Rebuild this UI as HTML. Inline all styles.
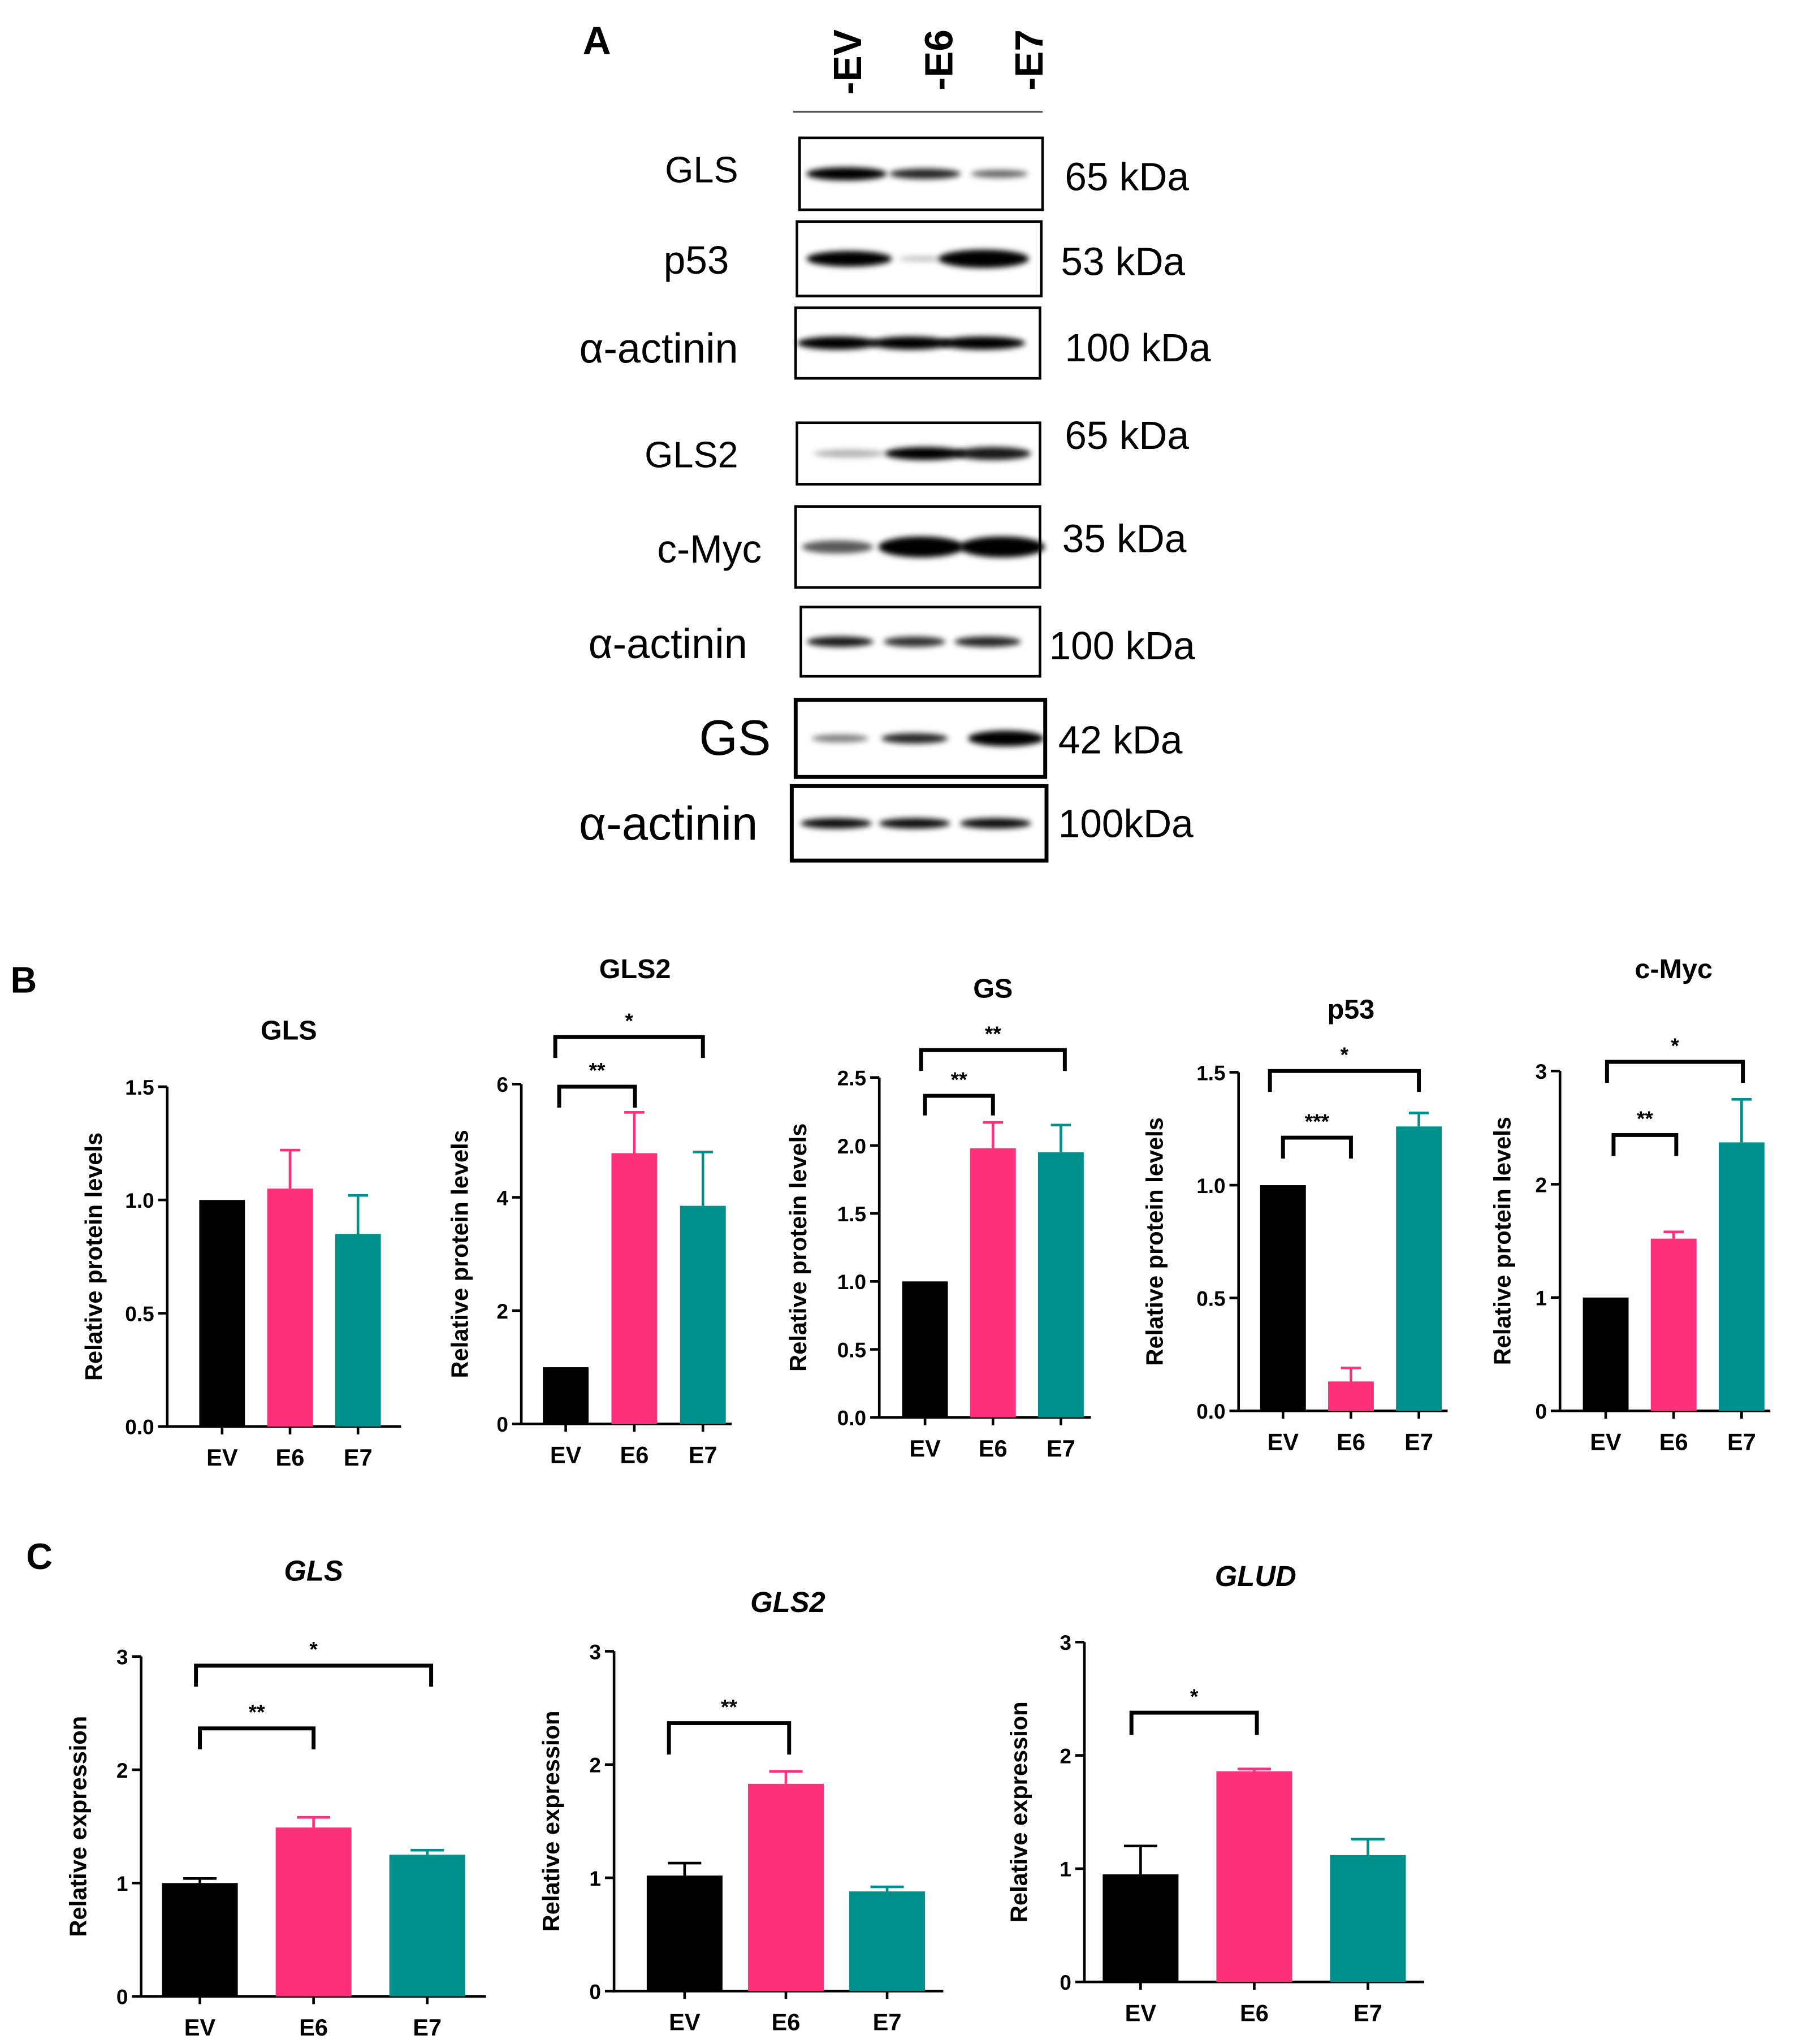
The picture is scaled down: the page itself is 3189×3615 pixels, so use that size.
<!DOCTYPE html>
<html><head><meta charset="utf-8">
<style>
html,body{margin:0;padding:0;background:#fff;}
svg{display:block;}
text{font-family:"Liberation Sans",Arial,sans-serif;}
</style></head>
<body>
<svg id="fig" width="3189" height="3615" viewBox="0 2.5 1380 1564" preserveAspectRatio="none" xmlns="http://www.w3.org/2000/svg">
<defs>
<filter id="blur" x="-50%" y="-100%" width="200%" height="300%"><feGaussianBlur stdDeviation="2.2"/></filter>
</defs>
<g id="panelA"></g>
<g id="panelB"></g>
<g id="panelC"></g>
</svg>
<script>
// ===== Panel B data =====
const bCategories = ["EV","E6","E7"];
const bGLSValues = [1.0, 1.05, 0.85];
const bGLSErrors = [0, 0.17, 0.17];
const bGLSTicks = ["0.0","0.5","1.0","1.5"];
const bGLS2Values = [1.0, 4.78, 3.85];
const bGLS2Errors = [0, 0.72, 0.95];
const bGLS2Ticks = ["0","2","4","6"];
const bGSValues = [1.0, 1.98, 1.95];
const bGSErrors = [0, 0.19, 0.2];
const bGSTicks = ["0.0","0.5","1.0","1.5","2.0","2.5"];
const bP53Values = [1.0, 0.13, 1.26];
const bP53Errors = [0, 0.06, 0.06];
const bP53Ticks = ["0.0","0.5","1.0","1.5"];
const bMycValues = [1.0, 1.52, 2.37];
const bMycErrors = [0, 0.06, 0.38];
const bMycTicks = ["0","1","2","3"];
// ===== Panel C data =====
const cCategories = ["EV","E6","E7"];
const cGLSValues = [1.0, 1.49, 1.25];
const cGLSErrors = [0.04, 0.09, 0.04];
const cGLS2Values = [1.02, 1.83, 0.88];
const cGLS2Errors = [0.11, 0.11, 0.04];
const cGLUDValues = [0.95, 1.86, 1.12];
const cGLUDErrors = [0.25, 0.02, 0.14];
const cTicks = ["0","1","2","3"];

const NS="http://www.w3.org/2000/svg";
const COLORS=["#000000","#fe2f7b","#00908c"];
function mk(parent,tag,attrs,txt){const e=document.createElementNS(NS,tag);for(const k in attrs)e.setAttribute(k,attrs[k]);if(txt!==undefined)e.textContent=txt;parent.appendChild(e);return e;}

function chart(parent,cfg){
  const g=mk(parent,"g",{});
  
  
  const ticks=cfg.ticks, max=parseFloat(ticks[ticks.length-1]);
  const y=v=>cfg.y0-(v/max)*(cfg.y0-cfg.yTop);
  const x=i=>cfg.cx0+i*cfg.step;
  const t=mk(g,"text",{x:cfg.tx,y:cfg.ty,"text-anchor":"middle","font-size":cfg.tfs,"font-weight":"bold","font-style":cfg.italic?"italic":"normal"},cfg.title);
  
  
  const ya=mk(g,"line",{x1:cfg.ax,y1:cfg.yTop,x2:cfg.ax,y2:cfg.y0+1,stroke:"#000","stroke-width":2});
  
  
  const xa=mk(g,"line",{x1:cfg.ax-1,y1:cfg.y0,x2:cfg.xEnd,y2:cfg.y0,stroke:"#000","stroke-width":2});
  
  
  ticks.forEach(tk=>{
    const v=parseFloat(tk), yy=y(v);
    mk(g,"line",{x1:cfg.ax-7,y1:yy,x2:cfg.ax,y2:yy,stroke:"#000","stroke-width":2});
    const tl=mk(g,"text",{x:cfg.ax-10,y:yy+6,"text-anchor":"end","font-size":16,"font-weight":"bold"},tk);
    
    
  });
  const yl=mk(g,"text",{x:0,y:0,transform:`translate(${cfg.ylx},${(cfg.y0+cfg.yTop)/2+cfg.yloff}) rotate(-90)`,"text-anchor":"middle","font-size":18,"font-weight":"bold"},cfg.ylabel);
  
  
  cfg.values.forEach((v,i)=>{
    const cx=x(i), w=cfg.bw;
    const b=mk(g,"rect",{x:cx-w/2,y:y(v),width:w,height:cfg.y0-y(v),fill:COLORS[i]});
    
    
    const e=cfg.errors[i];
    if(e>0){
      const eg=mk(g,"path",{d:`M${cx},${y(v)} V${y(v+e)} M${cx-w*0.22},${y(v+e)} H${cx+w*0.22}`,stroke:COLORS[i],"stroke-width":2,fill:"none"});
      
      
    }
    mk(g,"line",{x1:cx,y1:cfg.y0,x2:cx,y2:cfg.y0+6,stroke:"#000","stroke-width":2});
    const xl=mk(g,"text",{x:cx,y:cfg.y0+cfg.xlOff,"text-anchor":"middle","font-size":18,"font-weight":"bold"},cfg.cats[i]);
    
    
  });
  (cfg.brackets||[]).forEach(br=>{
    const p=mk(g,"path",{d:`M${br[0]},${br[3]} V${br[2]} H${br[1]} V${br[3]}`,stroke:"#000","stroke-width":3,fill:"none"});
    
    
    const s=mk(g,"text",{x:(br[0]+br[1])/2,y:br[2]-7,"text-anchor":"middle","font-size":16,"font-weight":"bold"},br[4]);
    
    
  });
}

const B=document.getElementById("panelB");
const lb=mk(B,"text",{x:8,y:762,"font-size":28,"font-weight":"bold"},"B");


const bl="Relative protein levels";
chart(B,{name:"chart-gls-protein",title:"GLS",tx:221,ty:798,tfs:21,ticks:bGLSTicks,values:bGLSValues,errors:bGLSErrors,cats:bCategories,ax:128,y0:1094,yTop:834,xEnd:307,cx0:170,step:52,bw:35,ylx:78,yloff:0,ylabel:bl,xlOff:30});
chart(B,{name:"chart-gls2-protein",title:"GLS2",tx:486,ty:751,tfs:21,ticks:bGLS2Ticks,values:bGLS2Values,errors:bGLS2Errors,cats:bCategories,ax:399,y0:1092,yTop:832,xEnd:560,cx0:433,step:52.5,bw:35,ylx:358,yloff:0,ylabel:bl,xlOff:30,brackets:[[428,486,834,850,"**"],[425,538,796,812,"*"]]});
chart(B,{name:"chart-gs-protein",title:"GS",tx:760,ty:766,tfs:21,ticks:bGSTicks,values:bGSValues,errors:bGSErrors,cats:bCategories,ax:673,y0:1087,yTop:827,xEnd:835,cx0:708,step:52,bw:35,ylx:617,yloff:0,ylabel:bl,xlOff:30,brackets:[[708,760,841,856,"**"],[705,815,806,822,"**"]]});
chart(B,{name:"chart-p53-protein",title:"p53",tx:1034,ty:782,tfs:21,ticks:bP53Ticks,values:bP53Values,errors:bP53Errors,cats:bCategories,ax:948,y0:1082,yTop:823,xEnd:1108,cx0:982,step:52,bw:35,ylx:890,yloff:0,ylabel:bl,xlOff:30,brackets:[[982,1034,873,889,"***"],[972,1086,822,838,"*"]]});
chart(B,{name:"chart-cmyc-protein",title:"c-Myc",tx:1281,ty:751,tfs:21,ticks:bMycTicks,values:bMycValues,errors:bMycErrors,cats:bCategories,ax:1194,y0:1082,yTop:822,xEnd:1355,cx0:1229,step:52,bw:35,ylx:1156,yloff:0,ylabel:bl,xlOff:30,brackets:[[1235,1283,871,887,"**"],[1230,1334,815,831,"*"]]});

const C=document.getElementById("panelC");
const lc=mk(C,"text",{x:20,y:1203,"font-size":28,"font-weight":"bold"},"C");


const cl="Relative expression";
chart(C,{name:"chart-gls-expression",title:"GLS",italic:true,tx:240,ty:1212,tfs:22,ticks:cTicks,values:cGLSValues,errors:cGLSErrors,cats:cCategories,ax:108,y0:1530,yTop:1270,xEnd:372,cx0:153,step:87,bw:58,ylx:66,yloff:0,ylabel:cl,xlOff:30,brackets:[[153,240,1325,1341,"**"],[150,330,1277,1293,"*"]]});
chart(C,{name:"chart-gls2-expression",title:"GLS2",italic:true,tx:603,ty:1236,tfs:22,ticks:cTicks,values:cGLS2Values,errors:cGLS2Errors,cats:cCategories,ax:470,y0:1526,yTop:1266,xEnd:722,cx0:524,step:77.5,bw:58,ylx:428,yloff:0,ylabel:cl,xlOff:30,brackets:[[512,604,1321,1345,"**"]]});
chart(C,{name:"chart-glud-expression",title:"GLUD",italic:true,tx:961,ty:1216,tfs:22,ticks:cTicks,values:cGLUDValues,errors:cGLUDErrors,cats:cCategories,ax:830,y0:1519,yTop:1259,xEnd:1090,cx0:873,step:87,bw:58,ylx:786,yloff:0,ylabel:cl,xlOff:30,brackets:[[866,962,1313,1330,"*"]]});

// ===== Panel A western blot =====
const A=document.getElementById("panelA");
const la=mk(A,"text",{x:446,y:44,"font-size":30,"font-weight":"bold"},"A");


const laneNames=["-EV","-E6","-E7"];
const laneX=[648,718,787];
laneNames.forEach((n,i)=>{
  const t=mk(A,"text",{x:0,y:0,transform:`translate(${laneX[i]+11},${25}) rotate(-90)`,"text-anchor":"end","font-size":30,"font-weight":"bold"},n);
  
  
});
mk(A,"line",{x1:607,y1:88,x2:798,y2:88,stroke:"#555","stroke-width":1.5});
const blots=[
 {name:"gls",label:"GLS",lx:565,ly:142,fs:28,x1:612,x2:798,y1:108,y2:163,sw:2,kda:"65 kDa",kx:815,ky:148,bands:[[648,1,34,5],[708,0.85,30,4],[765,0.6,24,3]]},
 {name:"p53",label:"p53",lx:558,ly:212,fs:30,x1:610,x2:797,y1:172,y2:229,sw:2,kda:"53 kDa",kx:812,ky:213,bands:[[650,1,36,6],[706,0.25,20,2],[753,1,38,7]]},
 {name:"alpha-actinin-1",label:"α-actinin",lx:565,ly:280,fs:32,x1:609,x2:796,y1:238,y2:292,sw:2,kda:"100 kDa",kx:815,ky:279,bands:[[641,1,34,5],[697,1,34,5],[752,1,36,5]]},
 {name:"gls2",label:"GLS2",lx:565,ly:360,fs:28,x1:610,x2:796,y1:326,y2:373,sw:2,kda:"65 kDa",kx:815,ky:346,bands:[[650,0.3,30,3],[708,1,34,5],[760,0.9,32,5]]},
 {name:"c-myc",label:"c-Myc",lx:583,ly:433,fs:30,x1:609,x2:796,y1:390,y2:452,sw:2,kda:"35 kDa",kx:813,ky:425,bands:[[641,0.65,30,5],[705,1,36,8],[767,1,36,8]]},
 {name:"alpha-actinin-2",label:"α-actinin",lx:572,ly:506,fs:32,x1:613,x2:796,y1:467,y2:520,sw:2,kda:"100 kDa",kx:803,ky:507,bands:[[643,0.9,28,4],[700,0.8,26,4],[756,0.85,28,4]]},
 {name:"gs",label:"GS",lx:590,ly:580,fs:38,x1:609,x2:800,y1:538,y2:597,sw:3,kda:"42 kDa",kx:810,ky:579,bands:[[643,0.5,24,3],[700,0.85,28,4],[770,1,32,6]]},
 {name:"alpha-actinin-3",label:"α-actinin",lx:580,ly:645,fs:36,x1:606,x2:801,y1:604,y2:661,sw:3,kda:"100kDa",kx:810,ky:643,bands:[[640,0.95,30,4],[700,0.95,30,4],[762,0.95,30,4]]}
];
blots.forEach(b=>{
  const g=mk(A,"g",{});
  
  
  const cy=(b.y1+b.y2)/2;
  b.bands.forEach(bd=>{
    const e=mk(g,"ellipse",{cx:bd[0],cy:cy,rx:bd[2]/1.1,ry:bd[3],fill:"#000","fill-opacity":bd[1],filter:"url(#blur)"});
    
    
  });
  mk(g,"rect",{x:b.x1,y:b.y1,width:b.x2-b.x1,height:b.y2-b.y1,fill:"none",stroke:"#000","stroke-width":b.sw});
  const l=mk(g,"text",{x:b.lx,y:b.ly,"text-anchor":"end","font-size":b.fs},b.label);
  
  
  const k=mk(g,"text",{x:b.kx,y:b.ky,"font-size":30},b.kda);
  
  
});
</script>
</body></html>
